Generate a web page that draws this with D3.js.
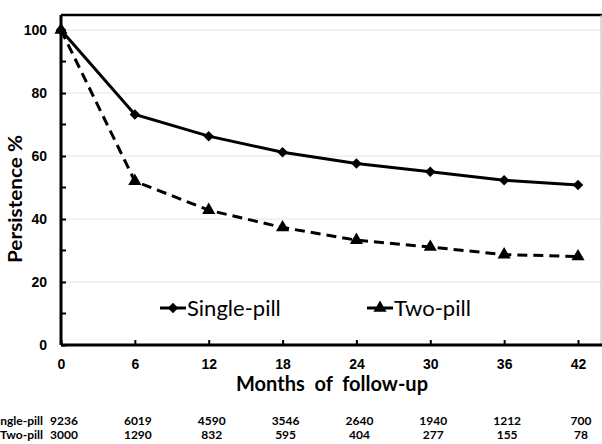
<!DOCTYPE html>
<html>
<head>
<meta charset="utf-8">
<script src="https://cdn.jsdelivr.net/npm/d3@7"></script>
<style>
  body { margin: 0; background: #fff; }
  svg { display: block; font-family: Lato, "Open Sans", sans-serif; }
</style>
</head>
<body>
<svg id="chart" width="602" height="444"></svg>
<script>
const months = [0, 6, 12, 18, 24, 30, 36, 42];
const singlePill = [100, 73.2, 66.3, 61.2, 57.6, 55.0, 52.3, 50.8];
const twoPill = [100, 52.0, 42.8, 37.3, 33.3, 31.1, 28.7, 28.1];
const yTicks = [0, 20, 40, 60, 80, 100];
const atRiskSingle = [9236, 6019, 4590, 3546, 2640, 1940, 1212, 700];
const atRiskTwo = [3000, 1290, 832, 595, 404, 277, 155, 78];

const svg = d3.select("#chart");
const plotLeft = 61, plotRight = 601, plotTop = 15, plotBottom = 345;

const x = d3.scaleLinear().domain([0, 42]).range([plotLeft, 578]);
const y = d3.scaleLinear().domain([0, 100]).range([plotBottom, 30]);

// gridlines
svg.append("g")
  .selectAll("line")
  .data(yTicks.filter(d => d > 0))
  .enter()
  .append("line")
  .attr("x1", plotLeft).attr("x2", plotRight)
  .attr("y1", d => y(d)).attr("y2", d => y(d))
  .attr("stroke", "#e4e4e4")
  .attr("stroke-width", 1);

// frame top / right
svg.append("line").attr("x1", plotLeft).attr("x2", 602).attr("y1", plotTop).attr("y2", plotTop)
  .attr("stroke", "#000").attr("stroke-width", 2.5);
svg.append("line").attr("x1", plotRight).attr("x2", plotRight).attr("y1", plotTop).attr("y2", plotBottom)
  .attr("stroke", "#bbb").attr("stroke-width", 1);

// y axis
const yAxis = d3.axisLeft(y).tickValues(yTicks).tickSize(-5).tickPadding(14);
const gy = svg.append("g").attr("transform", `translate(${plotLeft},0)`).call(yAxis);
gy.select(".domain").remove();
gy.selectAll(".tick line").attr("stroke-width", 2);
gy.selectAll(".tick text").style("font-size", "14px").style("font-weight", "bold").attr("fill", "#000");
// minor ticks
svg.append("g").selectAll("line")
  .data([10, 30, 50, 70, 90])
  .enter().append("line")
  .attr("x1", plotLeft).attr("x2", plotLeft + 5)
  .attr("y1", d => y(d)).attr("y2", d => y(d))
  .attr("stroke", "#000").attr("stroke-width", 2);

// x axis
const xAxis = d3.axisBottom(x).tickValues(months).tickSize(-5).tickPadding(14);
const gx = svg.append("g").attr("transform", `translate(0,${plotBottom})`).call(xAxis);
gx.select(".domain").remove();
gx.selectAll(".tick line").attr("stroke-width", 2);
gx.selectAll(".tick text").style("font-size", "14px").style("font-weight", "bold").attr("fill", "#000");

svg.append("line").attr("x1", plotLeft).attr("x2", 602).attr("y1", plotBottom).attr("y2", plotBottom)
  .attr("stroke", "#000").attr("stroke-width", 3);
svg.append("line").attr("x1", plotLeft).attr("x2", plotLeft).attr("y1", plotTop).attr("y2", plotBottom)
  .attr("stroke", "#000").attr("stroke-width", 3);

// axis titles
svg.append("text")
  .attr("transform", "translate(22,199) rotate(-90)")
  .attr("text-anchor", "middle")
  .attr("textLength", 128)
  .attr("lengthAdjust", "spacingAndGlyphs")
  .style("font-size", "18px").style("font-weight", "bold")
  .text("Persistence %");

svg.append("text")
  .attr("x", 332).attr("y", 391)
  .attr("text-anchor", "middle")
  .style("font-size", "20px").style("font-weight", "bold")
  .style("white-space", "pre")
  .text("Months  of  follow-up");

// lines
const line = d3.line().x(d => x(d[0])).y(d => y(d[1]));
const singleData = months.map((m, i) => [m, singlePill[i]]);
const twoData = months.map((m, i) => [m, twoPill[i]]);

svg.append("path").datum(twoData).attr("d", line)
  .attr("fill", "none").attr("stroke", "#000").attr("stroke-width", 3)
  .attr("stroke-dasharray", "10,6");
svg.append("path").datum(singleData).attr("d", line)
  .attr("fill", "none").attr("stroke", "#000").attr("stroke-width", 3);

const diamond = d3.symbol().type(d3.symbolDiamond2).size(70);
const triangle = d3.symbol().type(d3.symbolTriangle).size(75);

svg.append("g").selectAll("path").data(twoData).enter().append("path")
  .attr("d", triangle)
  .attr("transform", d => `translate(${x(d[0])},${y(d[1])})`)
  .attr("fill", "#000");
svg.append("g").selectAll("path").data(singleData).enter().append("path")
  .attr("d", diamond)
  .attr("transform", d => `translate(${x(d[0])},${y(d[1])})`)
  .attr("fill", "#000");

// legend
const legend = svg.append("g");
const items = [
  { label: "Single-pill", sym: diamond, x: 160 },
  { label: "Two-pill", sym: triangle, x: 367 }
];
items.forEach(it => {
  legend.append("line").attr("x1", it.x).attr("x2", it.x + 26)
    .attr("y1", 308).attr("y2", 308).attr("stroke", "#000").attr("stroke-width", 3);
  legend.append("path").attr("d", it.sym)
    .attr("transform", `translate(${it.x + 13},308)`).attr("fill", "#000");
  legend.append("text").attr("x", it.x + 27).attr("y", 316)
    .style("font-size", "22px").text(it.label);
});

// numbers at risk
const rows = [
  { label: "Single-pill", values: atRiskSingle, y: 425 },
  { label: "Two-pill", values: atRiskTwo, y: 439 }
];
rows.forEach(r => {
  svg.append("text").attr("x", 43).attr("y", r.y).attr("text-anchor", "end")
    .style("font-size", "12px").style("font-weight", "bold").text(r.label);
  svg.append("g").selectAll("text").data(r.values).enter().append("text")
    .attr("x", (d, i) => x(months[i]) + 3).attr("y", r.y)
    .attr("text-anchor", "middle")
    .style("font-size", "12px").style("font-weight", "bold")
    .text(d => d);
});
</script>
</body>
</html>
